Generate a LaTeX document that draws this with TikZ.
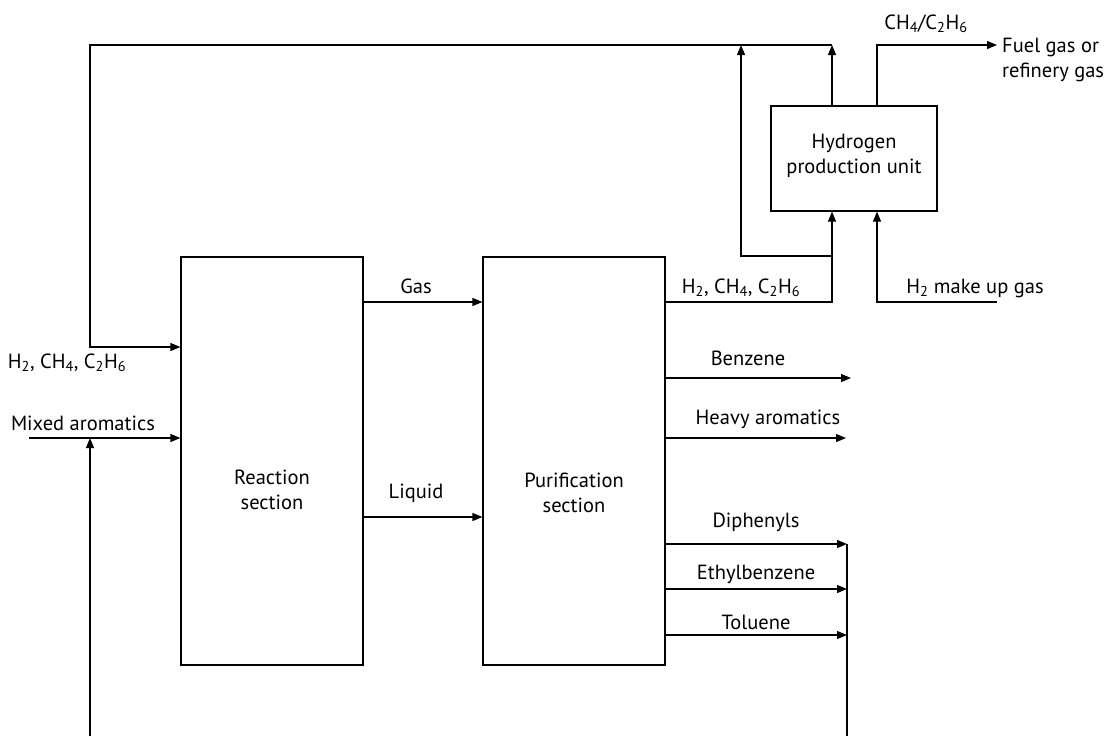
\documentclass[tikz,border=0pt]{standalone}
\usepackage{fontspec}
\setmainfont{PT Sans}
\usetikzlibrary{arrows.meta}
\begin{document}
\begin{tikzpicture}[x=1pt,y=-1pt,
  flow/.style={line width=1.2pt,-{Triangle[length=10pt,width=8pt]}},
  plain/.style={line width=1.2pt},
  box/.style={draw,line width=1.2pt,inner sep=0pt},
  lbl/.style={font=\fontsize{20.5}{25}\selectfont,inner sep=0pt,align=center}]
\useasboundingbox (0,0) rectangle (1107,736);
% boxes
\node[box,minimum width=182pt,minimum height=408pt] (rs) at (272,461) {};
\node[box,minimum width=182pt,minimum height=408pt] (ps) at (574,461) {};
\node[box,minimum width=166pt,minimum height=105pt] (hp) at (854,158.5) {};
\node[lbl] (rst) at (272,490) {Reaction\\section};
\node[lbl] (pst) at (574,493) {Purification\\section};
\node[lbl] (hpt) at (854,156) {Hydrogen\\production unit};
% coordinates
\coordinate (tl) at (90,45);
\coordinate (tr) at (832,45);
\coordinate (lc) at (90,347);
\coordinate (ma) at (29,438);
\coordinate (bl) at (90,736);
\coordinate (gy) at (0,302);
\coordinate (ly) at (0,517);
\coordinate (hc) at (832,302);
\coordinate (br) at (832,256);
\coordinate (bx) at (741,256);
\coordinate (bt) at (741,45);
\coordinate (fx) at (877,0);
\coordinate (fc) at (877,45);
\coordinate (fe) at (997,45);
\coordinate (me) at (997,302);
\coordinate (mc) at (877,302);
\coordinate (be) at (851,378);
\coordinate (he) at (846,438);
\coordinate (de) at (847,544);
\coordinate (ee) at (847,589);
\coordinate (te) at (847,635);
\coordinate (vb) at (847,736);
% recycle and feeds
\draw[flow] (tr) -- (tl) -- (lc) -- (lc -| rs.west);
\draw[flow] (ma) -- (ma -| rs.west);
\draw[flow] (bl) -- (bl |- ma);
% reaction to purification
\draw[flow] (rs.east |- gy) -- (ps.west |- gy);
\draw[flow] (rs.east |- ly) -- (ps.west |- ly);
% gas to hydrogen unit
\draw[flow] (ps.east |- hc) -- (hc) -- (hp.south -| hc);
\draw[flow] (br) -- (bx) -- (bt);
\draw[flow] (hp.north -| tr) -- (tr);
\draw[flow] (hp.north -| fx) -- (fc) -- (fe);
\draw[flow] (me) -- (mc) -- (hp.south -| mc);
% products
\draw[flow] (ps.east |- be) -- (be);
\draw[flow] (ps.east |- he) -- (he);
\draw[flow] (ps.east |- de) -- (de);
\draw[flow] (ps.east |- ee) -- (ee);
\draw[flow] (ps.east |- te) -- (te);
\draw[plain] (de) -- (vb);
% labels
\node[lbl] (l1) at (67,363) {H\textsubscript{2}, CH\textsubscript{4}, C\textsubscript{2}H\textsubscript{6}};
\node[lbl] (l2) at (83,423) {Mixed aromatics};
\node[lbl] (l3) at (416,286) {Gas};
\node[lbl] (l4) at (416,493) {Liquid};
\node[lbl] (l5) at (741,288) {H\textsubscript{2}, CH\textsubscript{4}, C\textsubscript{2}H\textsubscript{6}};
\node[lbl] (l6) at (748,358) {Benzene};
\node[lbl] (l7) at (768,419) {Heavy aromatics};
\node[lbl] (l8) at (756,522) {Diphenyls};
\node[lbl] (l9) at (756,574) {Ethylbenzene};
\node[lbl] (l10) at (756,622) {Toluene};
\node[lbl] (l11) at (926,24) {CH\textsubscript{4}/C\textsubscript{2}H\textsubscript{6}};
\node[lbl,align=left,anchor=west] (l12) at (1002,60) {Fuel gas or\\refinery gas};
\node[lbl] (l13) at (975,288) {H\textsubscript{2} make up gas};
\end{tikzpicture}
\end{document}
